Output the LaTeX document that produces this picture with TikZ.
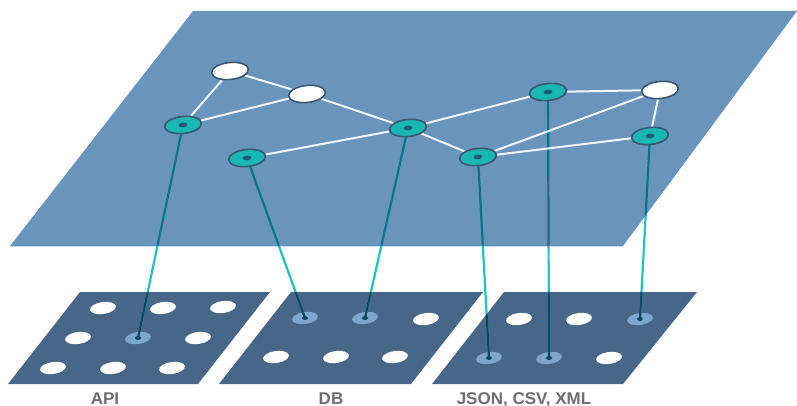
\documentclass[tikz,border=0pt]{standalone}
\usepackage{fontspec}
\setmainfont{Liberation Sans}
\usetikzlibrary{shapes.geometric}
\pgfdeclarelayer{planes}
\pgfdeclarelayer{dots}
\pgfdeclarelayer{links}
\pgfdeclarelayer{edges}
\pgfsetlayers{planes,dots,links,edges,main}

\definecolor{planetop}{HTML}{6995BD}
\definecolor{planelow}{HTML}{486788}
\definecolor{planeedge}{HTML}{C4D6E6}
\definecolor{nodeteal}{HTML}{19B7B3}
\definecolor{nodering}{HTML}{3B5670}
\definecolor{nodecore}{HTML}{1E5A78}
\definecolor{hilite}{HTML}{7EA6CD}
\definecolor{linkcyan}{HTML}{22C2BE}
\definecolor{linkmid}{HTML}{12708A}
\definecolor{linkdeep}{HTML}{0B4862}
\definecolor{labelgray}{HTML}{6E6E6E}

\tikzset{
  graphnode/.style={ellipse, draw=nodering, line width=1.6pt,
    minimum width=37pt, minimum height=17pt, inner sep=0pt, rotate=6},
  whitenode/.style={graphnode, fill=white},
  tealnode/.style={graphnode, fill=nodeteal,
    path picture={\fill[nodecore] (path picture bounding box.center)
      ellipse (4.5pt and 2.4pt);}},
  griddot/.style={ellipse, fill=white, minimum width=26pt, minimum height=12pt,
    inner sep=0pt, rotate=8},
  hidot/.style={griddot, fill=hilite},
  edge/.style={draw=white, line width=2pt, opacity=0.92},
  link/.style={line width=2.2pt, line cap=round},
  srclabel/.style={text=labelgray, font=\fontsize{17}{20}\selectfont\bfseries,
    inner sep=0pt, anchor=base},
}

\begin{document}
\begin{tikzpicture}[x=1pt,y=-1pt]
\useasboundingbox (0,0) rectangle (797,406);

% corners of the upper plane and of the three source panels
\coordinate (u1) at (10,246);  \coordinate (u2) at (623,246);
\coordinate (u3) at (797,11);  \coordinate (u4) at (193,11);
\coordinate (a1) at (8,384);   \coordinate (a2) at (198,384);
\coordinate (a3) at (270,292); \coordinate (a4) at (80,292);
\coordinate (b1) at (219,384); \coordinate (b2) at (411,384);
\coordinate (b3) at (483,292); \coordinate (b4) at (291,292);
\coordinate (c1) at (432,384); \coordinate (c2) at (623,384);
\coordinate (c3) at (697,292); \coordinate (c4) at (504,292);

\begin{pgfonlayer}{planes}
  \fill[planetop] (u1) -- (u2) -- (u3) -- (u4) -- cycle;
  \draw[planeedge, line width=0.8pt] (u1) -- (u2);
  \fill[planelow] (a1) -- (a2) -- (a3) -- (a4) -- cycle;
  \fill[planelow] (b1) -- (b2) -- (b3) -- (b4) -- cycle;
  \fill[planelow] (c1) -- (c2) -- (c3) -- (c4) -- cycle;
\end{pgfonlayer}

% dots of the source panels
\begin{pgfonlayer}{dots}
  % API
  \node[griddot] (a11) at (103,308) {};
  \node[griddot] (a12) at (163,308) {};
  \node[griddot] (a13) at (223,307) {};
  \node[griddot] (a21) at (78,338) {};
  \node[hidot]   (a22) at (138,338) {};
  \node[griddot] (a23) at (198,338) {};
  \node[griddot] (a31) at (53,368) {};
  \node[griddot] (a32) at (113,368) {};
  \node[griddot] (a33) at (172,368) {};
  % DB
  \node[hidot]   (b11) at (305,318) {};
  \node[hidot]   (b12) at (365,318) {};
  \node[griddot] (b13) at (426,319) {};
  \node[griddot] (b21) at (276,357) {};
  \node[griddot] (b22) at (336,357) {};
  \node[griddot] (b23) at (395,357) {};
  % JSON, CSV, XML
  \node[griddot] (c11) at (519,319) {};
  \node[griddot] (c12) at (579,319) {};
  \node[hidot]   (c13) at (640,319) {};
  \node[hidot]   (c21) at (489,358) {};
  \node[hidot]   (c22) at (549,358) {};
  \node[griddot] (c23) at (609,358) {};
\end{pgfonlayer}

% graph on the upper plane
\node[whitenode] (w1) at (230,71) {};
\node[whitenode] (w2) at (307,94) {};
\node[whitenode] (w3) at (660,90) {};
\node[tealnode]  (t1) at (183,125) {};
\node[tealnode]  (t2) at (247,158) {};
\node[tealnode]  (t3) at (408,128) {};
\node[tealnode]  (t4) at (478,157) {};
\node[tealnode]  (t5) at (548,92) {};
\node[tealnode]  (t6) at (650,136) {};

\begin{pgfonlayer}{edges}
  \path[edge] (w1) -- (w2) (w1) -- (t1) (t1) -- (w2) (w2) -- (t3)
              (t2) -- (t3) (t3) -- (t5) (t3) -- (t4) (t4) -- (w3)
              (t4) -- (t6) (t5) -- (w3) (w3) -- (t6);
\end{pgfonlayer}

% links from graph nodes down to their source records
\begin{pgfonlayer}{links}
  \def\links{(t1.center) -- (a22.center) (t2.center) -- (b11.center)
             (t3.center) -- (b12.center) (t4.center) -- (c21.center)
             (t5.center) -- (c22.center) (t6.center) -- (c13.center)}
  \draw[link, linkcyan] \links;
  \begin{scope}
    \clip (u1) -- (u2) -- (u3) -- (u4) -- cycle;
    \draw[link, linkmid] \links;
  \end{scope}
  \begin{scope}
    \clip (a1) -- (a2) -- (a3) -- (a4) -- cycle
          (b1) -- (b2) -- (b3) -- (b4) -- cycle
          (c1) -- (c2) -- (c3) -- (c4) -- cycle;
    \draw[link, linkdeep] \links;
  \end{scope}
  \foreach \d in {a22,b11,b12,c13,c21,c22}
    \fill[linkdeep] (\d.center) ellipse (3pt and 2pt);
\end{pgfonlayer}

% source labels
\node[srclabel] (lapi)  at (105,404) {API};
\node[srclabel] (ldb)   at (331,404) {DB};
\node[srclabel] (lfile) at (524,404) {JSON, CSV, XML};
\end{tikzpicture}
\end{document}
